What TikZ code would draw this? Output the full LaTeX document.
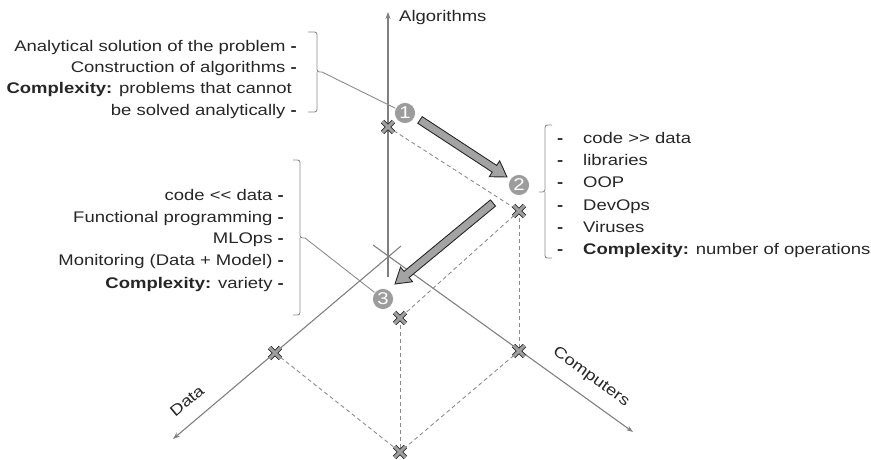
\documentclass[tikz,border=0pt]{standalone}
\usepackage{fontspec}
\setmainfont{Liberation Sans}[FakeStretch=1.2]
\usetikzlibrary{arrows.meta,calc,shapes.misc}

\tikzset{
  axis/.style={draw=gray, line width=1.1pt, -{Stealth[length=7pt,width=5pt]}},
  guide/.style={draw=gray!90, line width=0.9pt, dash pattern=on 4pt off 3pt},
  leader/.style={draw=gray!90, line width=0.9pt},
  bracket/.style={draw=gray!90, line width=0.9pt, rounded corners=2.5pt},
  marker/.style={cross out, draw=gray!35!black, line width=0.9pt, double=gray!75,
    double distance=3pt, minimum size=10pt, inner sep=0pt},
  num/.style={circle, fill=gray!78, draw=white, line width=0.6pt, text=white,
    minimum size=21pt, inner sep=0pt, font=\fontsize{17pt}{17pt}\selectfont},
  bigarrow/.style={fill=gray!72, draw=gray!30!black, line width=0.9pt, line join=miter},
  txt/.style={text=black!85, font=\fontsize{15.4pt}{18pt}\selectfont, inner sep=0pt}
}

% block arrow from #1 to #2
\newcommand{\flowarrow}[2]{%
  \coordinate (neck) at ($(#2)!15pt!(#1)$);
  \draw[bigarrow] ($(#1)!4pt!90:(#2)$) -- ($(neck)!4pt!90:(#2)$)
    -- ($(neck)!9.5pt!90:(#2)$) -- (#2) -- ($(neck)!9.5pt!-90:(#2)$)
    -- ($(neck)!4pt!-90:(#2)$) -- ($(#1)!4pt!-90:(#2)$) -- cycle;}

\begin{document}
\begin{tikzpicture}[x=1pt, y=-1pt]
  \useasboundingbox (0,0) rectangle (871,460);

  % axes
  \coordinate (algS) at (388,277);  \coordinate (algE) at (388,12);
  \coordinate (dataS) at (401,246); \coordinate (dataE) at (173,439);
  \coordinate (compS) at (373,245); \coordinate (compE) at (633,432);
  \draw[axis] (algS) -- (algE);
  \draw[axis] (dataS) -- (dataE);
  \draw[axis] (compS) -- (compE);
  \node[txt, anchor=west] (algL) at (399,18) {Algorithms};
  \node[txt, rotate=40] (dataL) at (187,401) {Data};
  \node[txt, rotate=-36] (compL) at (591,377) {Computers};

  % cube corners
  \coordinate (pA) at (388,127);
  \coordinate (p2) at (519,211);
  \coordinate (p3) at (400,318);
  \coordinate (pD) at (275,353);
  \coordinate (pC) at (519,351);
  \coordinate (pB) at (400,452);
  \draw[guide] (pA) -- (p2);
  \draw[guide] (p2) -- (p3);
  \draw[guide] (p2) -- (pC);
  \draw[guide] (p3) -- (pB);
  \draw[guide] (pD) -- (pB);
  \draw[guide] (pC) -- (pB);
  \foreach \p in {A,2,3,D,C,B}
    \node[marker] (m\p) at (p\p) {};

  % steps
  \node[num] (c1) at (405,113) {1};
  \node[num] (c2) at (519,185) {2};
  \node[num] (c3) at (383,299) {3};
  \coordinate (s1) at (420,120); \coordinate (e1) at (507,177);
  \coordinate (s2) at (493,203); \coordinate (e2) at (395,284);
  \flowarrow{s1}{e1}
  \flowarrow{s2}{e2}

  % brackets and leaders
  \coordinate (b1) at (322,72);
  \coordinate (b2) at (539,192);
  \coordinate (b3) at (305,238);
  \draw[bracket] (308,32) -- (317,32) -- (317,72) -- (b1) (317,72) -- (317,112) -- (308,112);
  \draw[bracket] (552,125) -- (545,125) -- (545,192) -- (b2) (545,192) -- (545,258) -- (552,258);
  \draw[bracket] (293,160) -- (300,160) -- (300,238) -- (b3) (300,238) -- (300,315) -- (293,315);
  \draw[leader] (b1) -- (c1);
  \draw[leader] (b3) -- (c3);

  % texts
  \foreach \x/\y/\t [count=\i] in {297/52/{Analytical solution of the problem \textbf{-}},
      297/73/{Construction of algorithms \textbf{-}},
      292/94/{\textbf{Complexity:} problems that cannot},
      297/115/{be solved analytically \textbf{-}}}
    \node[txt, anchor=base east] (alg-\i) at (\x,\y) {\t};

  \foreach \y/\t [count=\i] in {143/{code >\kern0pt> data}, 165/libraries, 187/OOP,
      210/DevOps, 232/Viruses, 254/{\textbf{Complexity:} number of operations}}
    \node[txt, anchor=base west] (comp-\i) at (557,\y) {\makebox[26pt][l]{\textbf{-}}\t};

  \foreach \y/\t [count=\i] in {200/{code <\kern0pt< data \textbf{-}},
      222/{Functional programming \textbf{-}}, 243/{MLOps \textbf{-}},
      265/{Monitoring (Data + Model) \textbf{-}},
      288/{\textbf{Complexity:} variety \textbf{-}}}
    \node[txt, anchor=base east] (data-\i) at (284,\y) {\t};
\end{tikzpicture}
\end{document}
